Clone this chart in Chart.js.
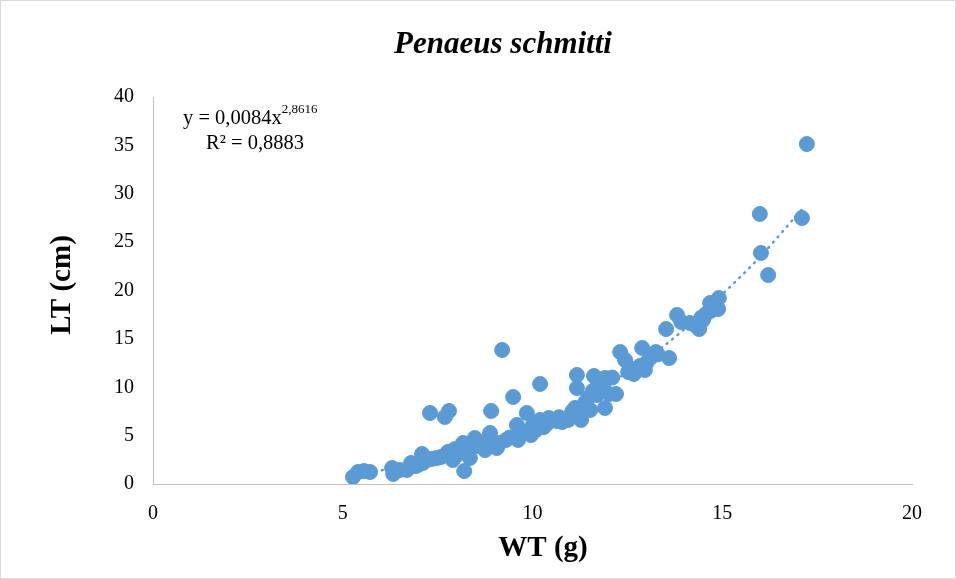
<!DOCTYPE html>
<html>
<head>
<meta charset="utf-8">
<style>
	html, body { margin: 0; padding: 0; background: #fff; }
	#wrap { width: 956px; height: 579px; }
	canvas { display: block; }
</style>
<script src="https://cdn.jsdelivr.net/npm/chart.js@4/dist/chart.umd.min.js"></script>
</head>
<body>
<div id="wrap"><canvas id="chart" width="956" height="579"></canvas></div>
<script>
// WT (g) and LT (cm) of each shrimp
const wtValues = [
	5.27, 5.40, 5.56, 5.72, 6.30, 6.33, 6.50, 6.69, 6.80, 6.93,
	7.09, 7.11, 7.22, 7.30, 7.48, 7.59, 7.69, 7.80, 7.77, 7.90,
	8.01, 8.09, 8.17, 8.20, 8.30, 8.35, 8.48, 8.56, 8.75, 8.80,
	8.88, 8.91, 9.06, 9.14, 9.20, 9.30, 9.49, 9.59, 9.62, 9.85,
	9.96, 10.01, 10.09, 10.20, 10.20, 10.30, 10.43, 10.54, 10.65, 10.78,
	10.94, 11.01, 11.12, 11.17, 11.17, 11.20, 11.28, 11.36, 11.46, 11.52,
	11.59, 11.62, 11.73, 11.86, 11.91, 11.91, 12.02, 12.20, 12.31, 12.44,
	12.52, 12.67, 12.83, 12.89, 12.96, 13.10, 13.25, 13.60, 13.52, 13.81,
	13.92, 14.15, 14.31, 14.39, 14.49, 14.57, 14.68, 14.84, 14.89, 14.91,
	15.99, 16.02, 16.21, 17.10, 17.23,
	7.00, 7.35, 7.95, 8.25, 8.65, 9.00, 9.40, 9.80, 10.15, 10.40,
	10.70, 11.05, 11.40, 11.70, 12.10, 12.60, 13.00, 13.30, 14.45, 14.70
];
const ltValues = [
	0.72, 1.24, 1.34, 1.24, 1.65, 1.03, 1.45, 1.45, 2.17, 1.86,
	3.10, 2.17, 2.48, 7.34, 2.69, 2.79, 6.93, 7.55, 3.31, 2.48,
	3.00, 3.72, 4.24, 1.34, 3.31, 2.69, 4.75, 3.93, 3.51, 4.44,
	5.27, 7.55, 3.72, 4.24, 13.85, 4.55, 8.99, 6.10, 4.55, 7.34,
	5.06, 6.10, 5.58, 10.34, 6.62, 5.89, 6.82, 6.62, 6.51, 6.41,
	6.62, 7.13, 7.86, 11.27, 9.92, 7.65, 6.62, 7.96, 8.89, 7.65,
	9.61, 11.16, 10.34, 10.23, 10.96, 7.86, 9.30, 9.30, 13.64, 12.82,
	11.58, 11.37, 12.20, 14.06, 11.78, 13.02, 13.64, 13.02, 16.02, 17.47,
	16.74, 16.64, 16.33, 16.02, 16.95, 17.57, 18.71, 18.50, 18.09, 19.22,
	27.91, 23.88, 21.60, 27.49, 35.14,
	2.00, 2.60, 3.60, 3.90, 4.20, 4.00, 4.80, 5.40, 6.00, 6.30,
	6.90, 7.50, 8.50, 9.20, 11.00, 11.90, 12.50, 13.40, 17.20, 17.90
];

// dotted power trendline
const trendWt = [5.3, 6, 7, 8, 9, 10, 11, 12, 13, 14, 15, 16, 17.1];
const trendLt = [1.0, 1.4, 2.2, 3.2, 4.5, 6.1, 8.0, 10.3, 12.9, 16.0, 19.6, 23.5, 28.4];

const xTicks = [0, 5, 10, 15, 20];
const yTicks = [0, 5, 10, 15, 20, 25, 30, 35, 40];

const blue = "#5b9bd5";
const serif = "'Liberation Serif', 'Times New Roman', serif";

function toPoints(xs, ys) {
	return xs.map(function (x, i) {
		return { x: x, y: ys[i] };
	});
}

const textPlugin = {
	id: "chartText",
	afterDraw: function (chart) {
		const ctx = chart.ctx;
		ctx.save();

		ctx.strokeStyle = "#d9d9d9";
		ctx.lineWidth = 1;
		ctx.strokeRect(0.5, 0.5, 955, 578);

		ctx.fillStyle = "#000";
		ctx.textAlign = "center";
		ctx.textBaseline = "middle";
		ctx.font = "italic bold 31px " + serif;
		ctx.fillText("Penaeus schmitti", 503, 45);

		ctx.font = "bold 29px " + serif;
		ctx.fillText("WT (g)", 543, 549);

		ctx.save();
		ctx.translate(63, 285);
		ctx.rotate(-Math.PI / 2);
		ctx.fillText("LT (cm)", 0, 0);
		ctx.restore();

		ctx.textAlign = "left";
		ctx.font = "20.5px " + serif;
		ctx.fillText("y = 0,0084x", 183, 119);
		const w = ctx.measureText("y = 0,0084x").width;
		ctx.font = "13px " + serif;
		ctx.fillText("2,8616", 183 + w, 110);
		ctx.font = "20.5px " + serif;
		ctx.fillText("R\u00b2 = 0,8883", 206, 144);

		ctx.restore();
	}
};

new Chart(document.getElementById("chart"), {
	type: "scatter",
	data: {
		datasets: [
			{
				label: "Trend",
				type: "line",
				data: toPoints(trendWt, trendLt),
				borderColor: blue,
				borderWidth: 2.5,
				borderDash: [1, 6],
				borderCapStyle: "round",
				pointRadius: 0,
				fill: false,
				cubicInterpolationMode: "monotone"
			},
			{
				label: "LT",
				data: toPoints(wtValues, ltValues),
				backgroundColor: blue,
				borderColor: blue,
				pointRadius: 7.5,
				pointHoverRadius: 7.5
			}
		]
	},
	options: {
		responsive: false,
		animation: false,
		layout: {
			padding: { left: 0, top: 97, right: 44, bottom: 0 }
		},
		plugins: {
			legend: { display: false },
			tooltip: { enabled: false }
		},
		scales: {
			x: {
				type: "linear",
				min: 0,
				max: 20,
				afterFit: function (scale) { scale.height = 95; },
				afterBuildTicks: function (scale) {
					scale.ticks = xTicks.map(function (v) { return { value: v }; });
				},
				grid: { display: false, drawTicks: false },
				border: { display: true, color: "#bfbfbf", width: 1 },
				ticks: {
					padding: 18,
					color: "#000",
					font: { family: serif, size: 20 }
				}
			},
			y: {
				type: "linear",
				min: 0,
				max: 40,
				afterFit: function (scale) { scale.width = 153; },
				afterBuildTicks: function (scale) {
					scale.ticks = yTicks.map(function (v) { return { value: v }; });
				},
				grid: { display: false, drawTicks: false },
				border: { display: true, color: "#bfbfbf", width: 1 },
				ticks: {
					padding: 19,
					color: "#000",
					font: { family: serif, size: 20 }
				}
			}
		}
	},
	plugins: [textPlugin]
});
</script>
</body>
</html>
